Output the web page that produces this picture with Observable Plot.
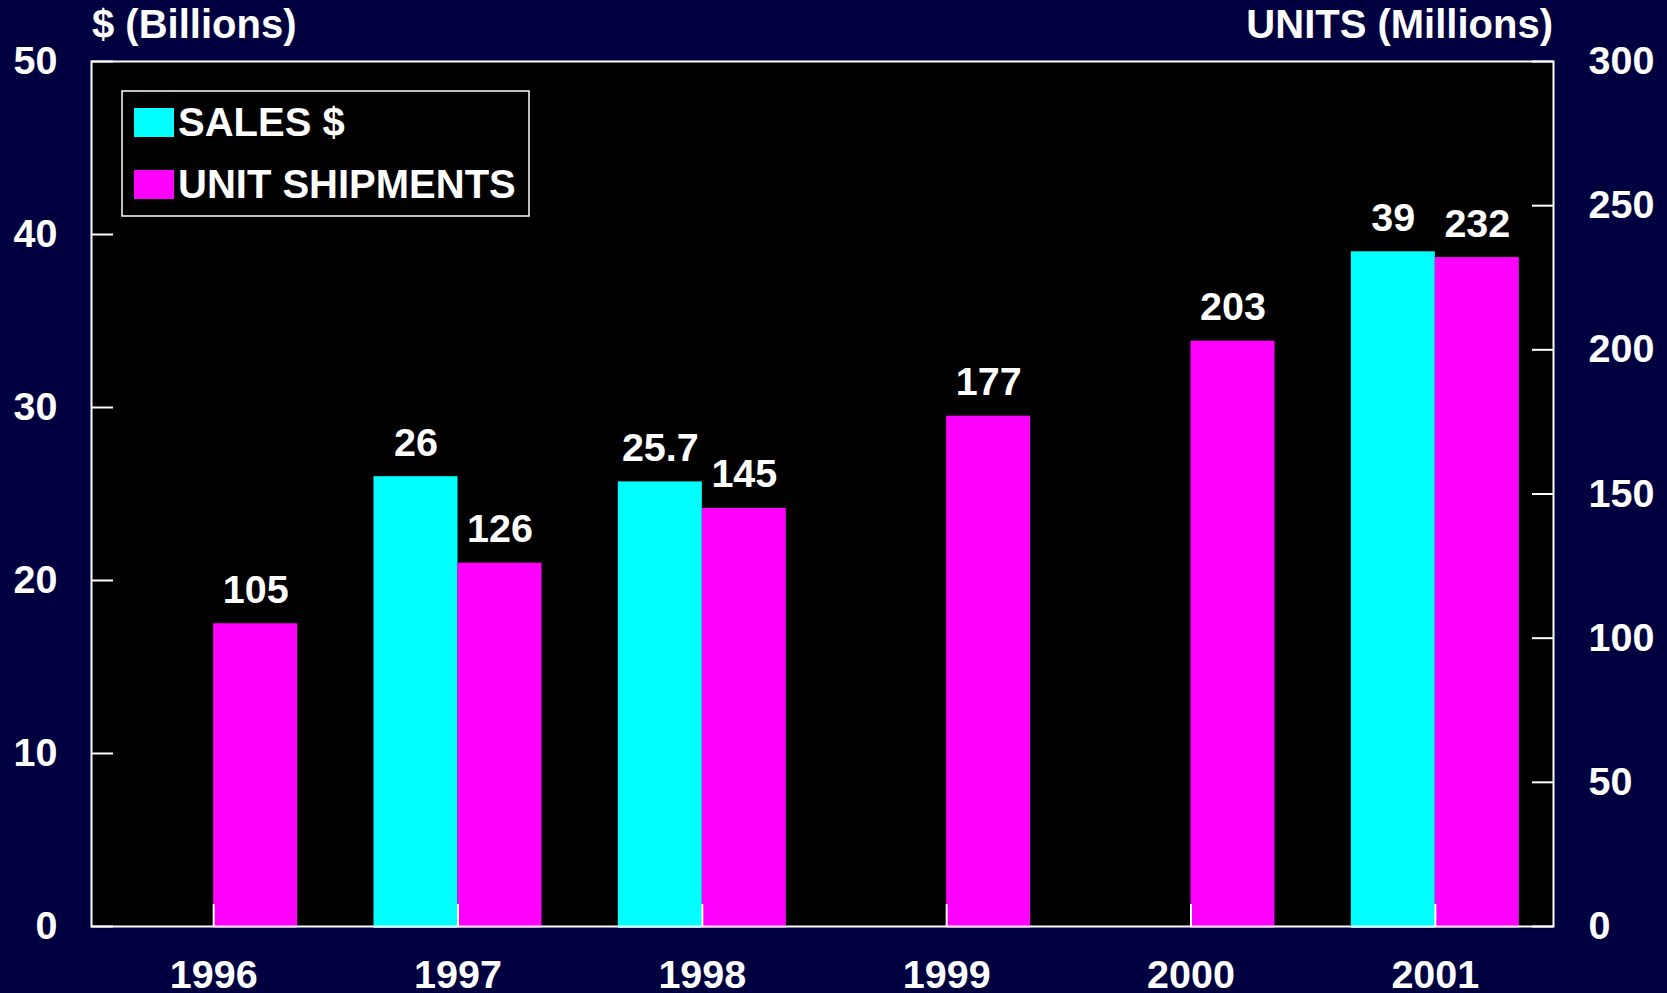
<!DOCTYPE html>
<html><head><meta charset="utf-8">
<script src="https://cdn.jsdelivr.net/npm/d3@7"></script>
<script src="https://cdn.jsdelivr.net/npm/@observablehq/plot@0.6"></script>
<style>
html,body{margin:0;padding:0;background:#000040;overflow:hidden;}
#chart{position:relative;width:1667px;height:993px;}
</style></head><body><div id="chart"></div>
<script>
// ---- data ----
const years = ["1996", "1997", "1998", "1999", "2000", "2001"];
const salesBillions = [null, 26, 25.7, null, null, 39];
const unitsMillions = [105, 126, 145, 177, 203, 232];
const leftTicks = [0, 10, 20, 30, 40, 50];
const rightTicks = [0, 50, 100, 150, 200, 250, 300];
const leftTitle = "$ (Billions)";
const rightTitle = "UNITS (Millions)";
const legendLabels = ["SALES $", "UNIT SHIPMENTS"];

// ---- layout / style ----
const W = 1667, H = 993, mL = 91, mR = 114, mT = 61, mB = 67;
const innerW = W - mL - mR, innerH = H - mT - mB;
const xInsetRight = -4;
const band = (innerW - xInsetRight) / years.length;
const barW = 84;
const FONT = "'Liberation Sans', Arial, Helvetica, sans-serif";
const FS = 39.5, FS2 = 40;
const NAVY = "#000040", CYAN = "#00FFFF", MAGENTA = "#FF00FF";
const RATIO = rightTicks[rightTicks.length - 1] / leftTicks[leftTicks.length - 1];

const sales = years.map((y, i) => ({year: y, value: salesBillions[i]})).filter(d => d.value != null);
const units = years.map((y, i) => ({year: y, value: unitsMillions[i]}));

const svg = Plot.plot({
  width: W, height: H,
  marginLeft: mL, marginRight: mR, marginTop: mT, marginBottom: mB,
  style: {background: NAVY, color: "white", fontFamily: FONT, fontSize: FS + "px", fontWeight: "bold"},
  x: {type: "band", domain: years, padding: 0, round: false, insetRight: xInsetRight, label: null},
  y: {domain: [0, rightTicks[rightTicks.length - 1]], label: null},
  marks: [
    Plot.frame({fill: "black", stroke: null}),
    Plot.barY(sales, {x: "year", y: d => d.value * RATIO, fill: CYAN,
      insetLeft: band / 2 - barW, insetRight: band / 2, insetBottom: -2}),
    Plot.barY(units, {x: "year", y: "value", fill: MAGENTA,
      insetLeft: band / 2, insetRight: band / 2 - barW, insetBottom: -2}),
    Plot.text(sales, {x: "year", y: d => d.value * RATIO, text: d => String(d.value),
      dx: -barW / 2, dy: -21, lineAnchor: "bottom", fill: "white", fontSize: FS, fontWeight: "bold"}),
    Plot.text(units, {x: "year", y: "value", text: d => String(d.value),
      dx: barW / 2, dy: -21, lineAnchor: "bottom", fill: "white", fontSize: FS, fontWeight: "bold"}),
    Plot.ruleX(years, {x: d => d, stroke: "white", strokeWidth: 2, insetTop: innerH - 22}),
    Plot.ruleY(leftTicks.map(v => v * RATIO), {y: d => d, stroke: "white", strokeWidth: 2, insetRight: innerW - 22}),
    Plot.ruleY(rightTicks, {y: d => d, stroke: "white", strokeWidth: 2, insetLeft: innerW - 21}),
    Plot.frame({stroke: "white", strokeWidth: 2}),
    Plot.axisX({tickSize: 0, tickPadding: 33, label: null, fill: "white", fontSize: FS}),
    Plot.axisY(leftTicks.map(v => v * RATIO), {anchor: "left", tickSize: 0, tickPadding: 34,
      tickFormat: d => String(d / RATIO), label: null, fill: "white", fontSize: FS}),
    Plot.axisY(rightTicks, {anchor: "right", tickSize: 0, tickPadding: 35, label: null, fill: "white", fontSize: FS})
  ]
});
document.getElementById("chart").appendChild(svg);

// ---- axis titles ----
const s = d3.select(svg);
s.append("text").attr("x", mL + 1).attr("y", 38).attr("text-anchor", "start").attr("fill", "white")
  .attr("font-family", FONT).attr("font-size", FS2).attr("font-weight", "bold")
  .text(leftTitle);
s.append("text").attr("x", W - mR).attr("y", 38).attr("text-anchor", "end").attr("fill", "white")
  .attr("font-family", FONT).attr("font-size", FS2).attr("font-weight", "bold")
  .text(rightTitle);

// ---- legend ----
const lg = s.append("g");
lg.append("rect").attr("x", 122).attr("y", 91).attr("width", 407).attr("height", 125)
  .attr("fill", "black").attr("stroke", "white").attr("stroke-width", 1.5);
[CYAN, MAGENTA].forEach((c, i) => {
  const y0 = 108 + i * 62;
  lg.append("rect").attr("x", 134).attr("y", y0).attr("width", 40).attr("height", 29).attr("fill", c);
  lg.append("text").attr("x", 178).attr("y", y0 + 28).attr("text-anchor", "start").attr("fill", "white")
    .attr("font-family", FONT).attr("font-size", FS2).attr("font-weight", "bold")
    .text(legendLabels[i]);
});
</script></body></html>
